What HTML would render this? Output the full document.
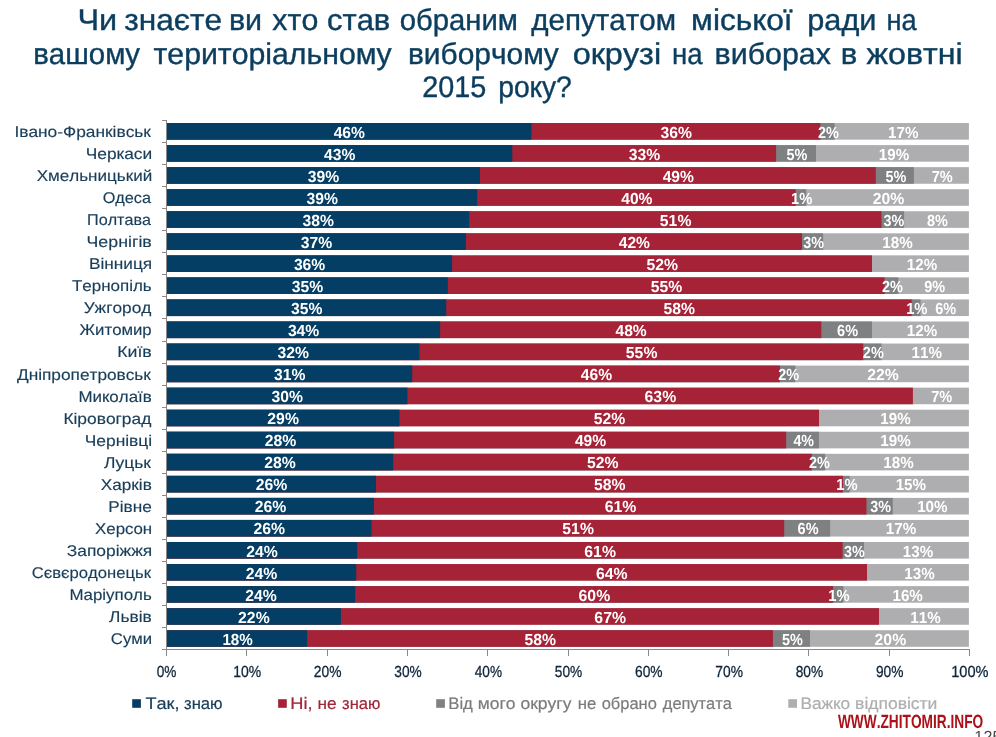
<!DOCTYPE html>
<html lang="uk"><head><meta charset="utf-8"><title>Чи знаєте ви хто став обраним депутатом</title>
<style>
html,body{margin:0;padding:0;background:#fff;}
body{width:996px;height:737px;overflow:hidden;}
svg{display:block;font-family:"Liberation Sans",sans-serif;font-kerning:none;text-rendering:geometricPrecision;}
</style></head><body>
<svg width="996" height="737" viewBox="0 0 996 737">
<rect width="996" height="737" fill="#fff"/>
<g id="bars">
<rect x="167.0" y="123.05" width="801.9" height="16.6" fill="#aeaeb0"/>
<rect x="167.0" y="123.05" width="667.6" height="16.6" fill="#7f8082"/>
<rect x="167.0" y="123.05" width="653.3" height="16.6" fill="#a62237"/>
<rect x="167.0" y="123.05" width="364.4" height="16.6" fill="#043e64"/>
<rect x="167.0" y="145.10" width="801.9" height="16.6" fill="#aeaeb0"/>
<rect x="167.0" y="145.10" width="649.0" height="16.6" fill="#7f8082"/>
<rect x="167.0" y="145.10" width="609.1" height="16.6" fill="#a62237"/>
<rect x="167.0" y="145.10" width="345.3" height="16.6" fill="#043e64"/>
<rect x="167.0" y="167.15" width="801.9" height="16.6" fill="#aeaeb0"/>
<rect x="167.0" y="167.15" width="746.9" height="16.6" fill="#7f8082"/>
<rect x="167.0" y="167.15" width="708.8" height="16.6" fill="#a62237"/>
<rect x="167.0" y="167.15" width="313.0" height="16.6" fill="#043e64"/>
<rect x="167.0" y="189.20" width="801.9" height="16.6" fill="#aeaeb0"/>
<rect x="167.0" y="189.20" width="639.2" height="16.6" fill="#7f8082"/>
<rect x="167.0" y="189.20" width="628.7" height="16.6" fill="#a62237"/>
<rect x="167.0" y="189.20" width="310.2" height="16.6" fill="#043e64"/>
<rect x="167.0" y="211.25" width="801.9" height="16.6" fill="#aeaeb0"/>
<rect x="167.0" y="211.25" width="737.1" height="16.6" fill="#7f8082"/>
<rect x="167.0" y="211.25" width="714.5" height="16.6" fill="#a62237"/>
<rect x="167.0" y="211.25" width="302.2" height="16.6" fill="#043e64"/>
<rect x="167.0" y="233.30" width="801.9" height="16.6" fill="#aeaeb0"/>
<rect x="167.0" y="233.30" width="656.1" height="16.6" fill="#7f8082"/>
<rect x="167.0" y="233.30" width="635.0" height="16.6" fill="#a62237"/>
<rect x="167.0" y="233.30" width="298.9" height="16.6" fill="#043e64"/>
<rect x="167.0" y="255.35" width="801.9" height="16.6" fill="#aeaeb0"/>
<rect x="167.0" y="255.35" width="705.0" height="16.6" fill="#a62237"/>
<rect x="167.0" y="255.35" width="285.1" height="16.6" fill="#043e64"/>
<rect x="167.0" y="277.40" width="801.9" height="16.6" fill="#aeaeb0"/>
<rect x="167.0" y="277.40" width="731.4" height="16.6" fill="#7f8082"/>
<rect x="167.0" y="277.40" width="717.6" height="16.6" fill="#a62237"/>
<rect x="167.0" y="277.40" width="280.8" height="16.6" fill="#043e64"/>
<rect x="167.0" y="299.45" width="801.9" height="16.6" fill="#aeaeb0"/>
<rect x="167.0" y="299.45" width="753.5" height="16.6" fill="#7f8082"/>
<rect x="167.0" y="299.45" width="744.7" height="16.6" fill="#a62237"/>
<rect x="167.0" y="299.45" width="279.2" height="16.6" fill="#043e64"/>
<rect x="167.0" y="321.50" width="801.9" height="16.6" fill="#aeaeb0"/>
<rect x="167.0" y="321.50" width="705.0" height="16.6" fill="#7f8082"/>
<rect x="167.0" y="321.50" width="654.3" height="16.6" fill="#a62237"/>
<rect x="167.0" y="321.50" width="273.1" height="16.6" fill="#043e64"/>
<rect x="167.0" y="343.55" width="801.9" height="16.6" fill="#aeaeb0"/>
<rect x="167.0" y="343.55" width="714.5" height="16.6" fill="#7f8082"/>
<rect x="167.0" y="343.55" width="696.2" height="16.6" fill="#a62237"/>
<rect x="167.0" y="343.55" width="252.5" height="16.6" fill="#043e64"/>
<rect x="167.0" y="365.60" width="801.9" height="16.6" fill="#aeaeb0"/>
<rect x="167.0" y="365.60" width="628.4" height="16.6" fill="#7f8082"/>
<rect x="167.0" y="365.60" width="612.9" height="16.6" fill="#a62237"/>
<rect x="167.0" y="365.60" width="245.2" height="16.6" fill="#043e64"/>
<rect x="167.0" y="387.65" width="801.9" height="16.6" fill="#aeaeb0"/>
<rect x="167.0" y="387.65" width="745.9" height="16.6" fill="#a62237"/>
<rect x="167.0" y="387.65" width="240.4" height="16.6" fill="#043e64"/>
<rect x="167.0" y="409.70" width="801.9" height="16.6" fill="#aeaeb0"/>
<rect x="167.0" y="409.70" width="652.0" height="16.6" fill="#a62237"/>
<rect x="167.0" y="409.70" width="232.4" height="16.6" fill="#043e64"/>
<rect x="167.0" y="431.75" width="801.9" height="16.6" fill="#aeaeb0"/>
<rect x="167.0" y="431.75" width="652.0" height="16.6" fill="#7f8082"/>
<rect x="167.0" y="431.75" width="619.2" height="16.6" fill="#a62237"/>
<rect x="167.0" y="431.75" width="227.1" height="16.6" fill="#043e64"/>
<rect x="167.0" y="453.80" width="801.9" height="16.6" fill="#aeaeb0"/>
<rect x="167.0" y="453.80" width="658.1" height="16.6" fill="#7f8082"/>
<rect x="167.0" y="453.80" width="644.8" height="16.6" fill="#a62237"/>
<rect x="167.0" y="453.80" width="226.2" height="16.6" fill="#043e64"/>
<rect x="167.0" y="475.85" width="801.9" height="16.6" fill="#aeaeb0"/>
<rect x="167.0" y="475.85" width="682.7" height="16.6" fill="#7f8082"/>
<rect x="167.0" y="475.85" width="675.9" height="16.6" fill="#a62237"/>
<rect x="167.0" y="475.85" width="209.0" height="16.6" fill="#043e64"/>
<rect x="167.0" y="497.90" width="801.9" height="16.6" fill="#aeaeb0"/>
<rect x="167.0" y="497.90" width="725.8" height="16.6" fill="#7f8082"/>
<rect x="167.0" y="497.90" width="699.5" height="16.6" fill="#a62237"/>
<rect x="167.0" y="497.90" width="207.0" height="16.6" fill="#043e64"/>
<rect x="167.0" y="519.95" width="801.9" height="16.6" fill="#aeaeb0"/>
<rect x="167.0" y="519.95" width="663.1" height="16.6" fill="#7f8082"/>
<rect x="167.0" y="519.95" width="617.2" height="16.6" fill="#a62237"/>
<rect x="167.0" y="519.95" width="204.5" height="16.6" fill="#043e64"/>
<rect x="167.0" y="542.00" width="801.9" height="16.6" fill="#aeaeb0"/>
<rect x="167.0" y="542.00" width="697.0" height="16.6" fill="#7f8082"/>
<rect x="167.0" y="542.00" width="675.6" height="16.6" fill="#a62237"/>
<rect x="167.0" y="542.00" width="190.2" height="16.6" fill="#043e64"/>
<rect x="167.0" y="564.05" width="801.9" height="16.6" fill="#aeaeb0"/>
<rect x="167.0" y="564.05" width="700.0" height="16.6" fill="#a62237"/>
<rect x="167.0" y="564.05" width="189.2" height="16.6" fill="#043e64"/>
<rect x="167.0" y="586.10" width="801.9" height="16.6" fill="#aeaeb0"/>
<rect x="167.0" y="586.10" width="676.4" height="16.6" fill="#7f8082"/>
<rect x="167.0" y="586.10" width="666.1" height="16.6" fill="#a62237"/>
<rect x="167.0" y="586.10" width="188.2" height="16.6" fill="#043e64"/>
<rect x="167.0" y="608.15" width="801.9" height="16.6" fill="#aeaeb0"/>
<rect x="167.0" y="608.15" width="712.0" height="16.6" fill="#a62237"/>
<rect x="167.0" y="608.15" width="173.9" height="16.6" fill="#043e64"/>
<rect x="167.0" y="630.20" width="801.9" height="16.6" fill="#aeaeb0"/>
<rect x="167.0" y="630.20" width="643.0" height="16.6" fill="#7f8082"/>
<rect x="167.0" y="630.20" width="605.9" height="16.6" fill="#a62237"/>
<rect x="167.0" y="630.20" width="140.2" height="16.6" fill="#043e64"/>
</g>
<g id="axes" shape-rendering="crispEdges">
<rect x="166" y="120" width="1" height="530" fill="#8a8a8a"/>
<rect x="166" y="649" width="804" height="1" fill="#8a8a8a"/>
<rect x="162" y="120" width="4" height="1" fill="#8a8a8a"/>
<rect x="162" y="142" width="4" height="1" fill="#8a8a8a"/>
<rect x="162" y="164" width="4" height="1" fill="#8a8a8a"/>
<rect x="162" y="186" width="4" height="1" fill="#8a8a8a"/>
<rect x="162" y="208" width="4" height="1" fill="#8a8a8a"/>
<rect x="162" y="230" width="4" height="1" fill="#8a8a8a"/>
<rect x="162" y="252" width="4" height="1" fill="#8a8a8a"/>
<rect x="162" y="274" width="4" height="1" fill="#8a8a8a"/>
<rect x="162" y="296" width="4" height="1" fill="#8a8a8a"/>
<rect x="162" y="318" width="4" height="1" fill="#8a8a8a"/>
<rect x="162" y="341" width="4" height="1" fill="#8a8a8a"/>
<rect x="162" y="363" width="4" height="1" fill="#8a8a8a"/>
<rect x="162" y="385" width="4" height="1" fill="#8a8a8a"/>
<rect x="162" y="407" width="4" height="1" fill="#8a8a8a"/>
<rect x="162" y="429" width="4" height="1" fill="#8a8a8a"/>
<rect x="162" y="451" width="4" height="1" fill="#8a8a8a"/>
<rect x="162" y="473" width="4" height="1" fill="#8a8a8a"/>
<rect x="162" y="495" width="4" height="1" fill="#8a8a8a"/>
<rect x="162" y="517" width="4" height="1" fill="#8a8a8a"/>
<rect x="162" y="539" width="4" height="1" fill="#8a8a8a"/>
<rect x="162" y="561" width="4" height="1" fill="#8a8a8a"/>
<rect x="162" y="583" width="4" height="1" fill="#8a8a8a"/>
<rect x="162" y="605" width="4" height="1" fill="#8a8a8a"/>
<rect x="162" y="627" width="4" height="1" fill="#8a8a8a"/>
<rect x="162" y="649" width="4" height="1" fill="#8a8a8a"/>
<rect x="166" y="650" width="1" height="5.5" fill="#8a8a8a"/>
<rect x="246" y="650" width="1" height="5.5" fill="#8a8a8a"/>
<rect x="327" y="650" width="1" height="5.5" fill="#8a8a8a"/>
<rect x="407" y="650" width="1" height="5.5" fill="#8a8a8a"/>
<rect x="487" y="650" width="1" height="5.5" fill="#8a8a8a"/>
<rect x="568" y="650" width="1" height="5.5" fill="#8a8a8a"/>
<rect x="648" y="650" width="1" height="5.5" fill="#8a8a8a"/>
<rect x="728" y="650" width="1" height="5.5" fill="#8a8a8a"/>
<rect x="808" y="650" width="1" height="5.5" fill="#8a8a8a"/>
<rect x="889" y="650" width="1" height="5.5" fill="#8a8a8a"/>
<rect x="969" y="650" width="1" height="5.5" fill="#8a8a8a"/>
</g>
<g id="text">
<g>
<text transform="translate(77.46,29.70) scale(1.0862,1)" font-size="29.9" fill="#0b3d5e" stroke="#0b3d5e" stroke-width="0.4" vector-effect="non-scaling-stroke">Чи</text>
<text transform="translate(124.24,29.70) scale(1.0588,1)" font-size="29.9" fill="#0b3d5e" stroke="#0b3d5e" stroke-width="0.4" vector-effect="non-scaling-stroke">знаєте</text>
<text transform="translate(228.89,29.70) scale(1.0197,1)" font-size="29.9" fill="#0b3d5e" stroke="#0b3d5e" stroke-width="0.4" vector-effect="non-scaling-stroke">ви</text>
<text transform="translate(272.36,29.70) scale(1.0141,1)" font-size="29.9" fill="#0b3d5e" stroke="#0b3d5e" stroke-width="0.4" vector-effect="non-scaling-stroke">хто</text>
<text transform="translate(326.98,29.70) scale(1.0360,1)" font-size="29.9" fill="#0b3d5e" stroke="#0b3d5e" stroke-width="0.4" vector-effect="non-scaling-stroke">став</text>
<text transform="translate(399.77,29.70) scale(0.9790,1)" font-size="29.9" fill="#0b3d5e" stroke="#0b3d5e" stroke-width="0.4" vector-effect="non-scaling-stroke">обраним</text>
<text transform="translate(531.21,29.70) scale(0.9891,1)" font-size="29.9" fill="#0b3d5e" stroke="#0b3d5e" stroke-width="0.4" vector-effect="non-scaling-stroke">депутатом</text>
<text transform="translate(691.10,29.70) scale(1.0602,1)" font-size="29.9" fill="#0b3d5e" stroke="#0b3d5e" stroke-width="0.4" vector-effect="non-scaling-stroke">міської</text>
<text transform="translate(807.32,29.70) scale(1.0251,1)" font-size="29.9" fill="#0b3d5e" stroke="#0b3d5e" stroke-width="0.4" vector-effect="non-scaling-stroke">ради</text>
<text transform="translate(886.51,29.70) scale(0.9109,1)" font-size="29.9" fill="#0b3d5e" stroke="#0b3d5e" stroke-width="0.4" vector-effect="non-scaling-stroke">на</text>
</g>
<g>
<text transform="translate(33.26,63.60) scale(0.9831,1)" font-size="29.9" fill="#0b3d5e" stroke="#0b3d5e" stroke-width="0.4" vector-effect="non-scaling-stroke">вашому</text>
<text transform="translate(153.48,63.60) scale(1.0116,1)" font-size="29.9" fill="#0b3d5e" stroke="#0b3d5e" stroke-width="0.4" vector-effect="non-scaling-stroke">територіальному</text>
<text transform="translate(407.92,63.60) scale(1.0017,1)" font-size="29.9" fill="#0b3d5e" stroke="#0b3d5e" stroke-width="0.4" vector-effect="non-scaling-stroke">виборчому</text>
<text transform="translate(572.64,63.60) scale(1.0846,1)" font-size="29.9" fill="#0b3d5e" stroke="#0b3d5e" stroke-width="0.4" vector-effect="non-scaling-stroke">окрузі</text>
<text transform="translate(672.08,63.60) scale(0.9238,1)" font-size="29.9" fill="#0b3d5e" stroke="#0b3d5e" stroke-width="0.4" vector-effect="non-scaling-stroke">на</text>
<text transform="translate(714.60,63.60) scale(1.0147,1)" font-size="29.9" fill="#0b3d5e" stroke="#0b3d5e" stroke-width="0.4" vector-effect="non-scaling-stroke">виборах</text>
<text transform="translate(840.75,63.60) scale(1.0390,1)" font-size="29.9" fill="#0b3d5e" stroke="#0b3d5e" stroke-width="0.4" vector-effect="non-scaling-stroke">в</text>
<text transform="translate(866.59,63.60) scale(1.0763,1)" font-size="29.9" fill="#0b3d5e" stroke="#0b3d5e" stroke-width="0.4" vector-effect="non-scaling-stroke">жовтні</text>
</g>
<g>
<text transform="translate(422.15,97.40) scale(0.9630,1)" font-size="29.9" fill="#0b3d5e" stroke="#0b3d5e" stroke-width="0.4" vector-effect="non-scaling-stroke">2015</text>
<text transform="translate(498.18,97.40) scale(0.9442,1)" font-size="29.9" fill="#0b3d5e" stroke="#0b3d5e" stroke-width="0.4" vector-effect="non-scaling-stroke">року?</text>
</g>
<text transform="translate(14.40,136.95) scale(1.1176,1)" font-size="15.5" fill="#173d58" stroke="#173d58" stroke-width="0.15" vector-effect="non-scaling-stroke">Івано-Франківськ</text>
<text transform="translate(85.74,159.00) scale(1.1192,1)" font-size="15.5" fill="#173d58" stroke="#173d58" stroke-width="0.15" vector-effect="non-scaling-stroke">Черкаси</text>
<text transform="translate(36.72,181.05) scale(1.0996,1)" font-size="15.5" fill="#173d58" stroke="#173d58" stroke-width="0.15" vector-effect="non-scaling-stroke">Хмельницький</text>
<text transform="translate(102.63,203.10) scale(1.0494,1)" font-size="15.5" fill="#173d58" stroke="#173d58" stroke-width="0.15" vector-effect="non-scaling-stroke">Одеса</text>
<text transform="translate(87.09,225.15) scale(1.0412,1)" font-size="15.5" fill="#173d58" stroke="#173d58" stroke-width="0.15" vector-effect="non-scaling-stroke">Полтава</text>
<text transform="translate(86.51,247.20) scale(1.1468,1)" font-size="15.5" fill="#173d58" stroke="#173d58" stroke-width="0.15" vector-effect="non-scaling-stroke">Чернігів</text>
<text transform="translate(88.99,269.25) scale(1.1122,1)" font-size="15.5" fill="#173d58" stroke="#173d58" stroke-width="0.15" vector-effect="non-scaling-stroke">Вінниця</text>
<text transform="translate(71.92,291.30) scale(1.0952,1)" font-size="15.5" fill="#173d58" stroke="#173d58" stroke-width="0.15" vector-effect="non-scaling-stroke">Тернопіль</text>
<text transform="translate(83.64,313.35) scale(1.1133,1)" font-size="15.5" fill="#173d58" stroke="#173d58" stroke-width="0.15" vector-effect="non-scaling-stroke">Ужгород</text>
<text transform="translate(79.57,335.40) scale(1.0827,1)" font-size="15.5" fill="#173d58" stroke="#173d58" stroke-width="0.15" vector-effect="non-scaling-stroke">Житомир</text>
<text transform="translate(117.25,357.45) scale(1.1420,1)" font-size="15.5" fill="#173d58" stroke="#173d58" stroke-width="0.15" vector-effect="non-scaling-stroke">Київ</text>
<text transform="translate(16.97,379.50) scale(1.1131,1)" font-size="15.5" fill="#173d58" stroke="#173d58" stroke-width="0.15" vector-effect="non-scaling-stroke">Дніпропетровськ</text>
<text transform="translate(78.41,401.55) scale(1.0915,1)" font-size="15.5" fill="#173d58" stroke="#173d58" stroke-width="0.15" vector-effect="non-scaling-stroke">Миколаїв</text>
<text transform="translate(63.38,423.60) scale(1.1199,1)" font-size="15.5" fill="#173d58" stroke="#173d58" stroke-width="0.15" vector-effect="non-scaling-stroke">Кіровоград</text>
<text transform="translate(84.74,445.65) scale(1.1214,1)" font-size="15.5" fill="#173d58" stroke="#173d58" stroke-width="0.15" vector-effect="non-scaling-stroke">Чернівці</text>
<text transform="translate(104.05,467.70) scale(1.1251,1)" font-size="15.5" fill="#173d58" stroke="#173d58" stroke-width="0.15" vector-effect="non-scaling-stroke">Луцьк</text>
<text transform="translate(100.81,489.75) scale(1.1063,1)" font-size="15.5" fill="#173d58" stroke="#173d58" stroke-width="0.15" vector-effect="non-scaling-stroke">Харків</text>
<text transform="translate(108.29,511.80) scale(1.1091,1)" font-size="15.5" fill="#173d58" stroke="#173d58" stroke-width="0.15" vector-effect="non-scaling-stroke">Рівне</text>
<text transform="translate(95.02,533.85) scale(1.0884,1)" font-size="15.5" fill="#173d58" stroke="#173d58" stroke-width="0.15" vector-effect="non-scaling-stroke">Херсон</text>
<text transform="translate(66.73,555.90) scale(1.1219,1)" font-size="15.5" fill="#173d58" stroke="#173d58" stroke-width="0.15" vector-effect="non-scaling-stroke">Запоріжжя</text>
<text transform="translate(31.76,577.95) scale(1.0729,1)" font-size="15.5" fill="#173d58" stroke="#173d58" stroke-width="0.15" vector-effect="non-scaling-stroke">Сєвєродонецьк</text>
<text transform="translate(69.41,600.00) scale(1.0901,1)" font-size="15.5" fill="#173d58" stroke="#173d58" stroke-width="0.15" vector-effect="non-scaling-stroke">Маріуполь</text>
<text transform="translate(109.05,622.05) scale(1.1191,1)" font-size="15.5" fill="#173d58" stroke="#173d58" stroke-width="0.15" vector-effect="non-scaling-stroke">Львів</text>
<text transform="translate(110.85,644.10) scale(1.0798,1)" font-size="15.5" fill="#173d58" stroke="#173d58" stroke-width="0.15" vector-effect="non-scaling-stroke">Суми</text>
<text transform="translate(156.72,676.60) scale(0.8527,1)" font-size="16" fill="#10263a" stroke="#10263a" stroke-width="0.3" vector-effect="non-scaling-stroke">0%</text>
<text transform="translate(233.14,676.60) scale(0.8732,1)" font-size="16" fill="#10263a" stroke="#10263a" stroke-width="0.3" vector-effect="non-scaling-stroke">10%</text>
<text transform="translate(313.81,676.60) scale(0.8614,1)" font-size="16" fill="#10263a" stroke="#10263a" stroke-width="0.3" vector-effect="non-scaling-stroke">20%</text>
<text transform="translate(394.28,676.60) scale(0.8559,1)" font-size="16" fill="#10263a" stroke="#10263a" stroke-width="0.3" vector-effect="non-scaling-stroke">30%</text>
<text transform="translate(474.79,676.60) scale(0.8493,1)" font-size="16" fill="#10263a" stroke="#10263a" stroke-width="0.3" vector-effect="non-scaling-stroke">40%</text>
<text transform="translate(554.85,676.60) scale(0.8568,1)" font-size="16" fill="#10263a" stroke="#10263a" stroke-width="0.3" vector-effect="non-scaling-stroke">50%</text>
<text transform="translate(635.00,676.60) scale(0.8616,1)" font-size="16" fill="#10263a" stroke="#10263a" stroke-width="0.3" vector-effect="non-scaling-stroke">60%</text>
<text transform="translate(715.29,676.60) scale(0.8618,1)" font-size="16" fill="#10263a" stroke="#10263a" stroke-width="0.3" vector-effect="non-scaling-stroke">70%</text>
<text transform="translate(795.70,676.60) scale(0.8583,1)" font-size="16" fill="#10263a" stroke="#10263a" stroke-width="0.3" vector-effect="non-scaling-stroke">80%</text>
<text transform="translate(875.96,676.60) scale(0.8598,1)" font-size="16" fill="#10263a" stroke="#10263a" stroke-width="0.3" vector-effect="non-scaling-stroke">90%</text>
<text transform="translate(951.14,676.60) scale(0.9123,1)" font-size="16" fill="#10263a" stroke="#10263a" stroke-width="0.3" vector-effect="non-scaling-stroke">100%</text>
<rect x="132.2" y="699.2" width="8.7" height="8.6" fill="#043e64"/>
<g>
<text transform="translate(145.39,708.70) scale(1.0925,1)" font-size="16.6" fill="#173d58" stroke="#173d58" stroke-width="0.2" vector-effect="non-scaling-stroke">Так,</text>
<text transform="translate(184.00,708.70) scale(1.0036,1)" font-size="16.6" fill="#173d58" stroke="#173d58" stroke-width="0.2" vector-effect="non-scaling-stroke">знаю</text>
</g>
<rect x="278.1" y="699.2" width="8.7" height="8.6" fill="#a62237"/>
<g>
<text transform="translate(290.30,708.70) scale(1.1012,1)" font-size="16.6" fill="#a0263a" stroke="#a0263a" stroke-width="0.2" vector-effect="non-scaling-stroke">Ні,</text>
<text transform="translate(317.41,708.70) scale(1.0357,1)" font-size="16.6" fill="#a0263a" stroke="#a0263a" stroke-width="0.2" vector-effect="non-scaling-stroke">не</text>
<text transform="translate(342.10,708.70) scale(0.9956,1)" font-size="16.6" fill="#a0263a" stroke="#a0263a" stroke-width="0.2" vector-effect="non-scaling-stroke">знаю</text>
</g>
<rect x="436.2" y="699.2" width="8.7" height="8.6" fill="#7f8082"/>
<g>
<text transform="translate(448.23,708.70) scale(1.0087,1)" font-size="16.6" fill="#7a7b7d" stroke="#7a7b7d" stroke-width="0.2" vector-effect="non-scaling-stroke">Від</text>
<text transform="translate(477.79,708.70) scale(1.0504,1)" font-size="16.6" fill="#7a7b7d" stroke="#7a7b7d" stroke-width="0.2" vector-effect="non-scaling-stroke">мого</text>
<text transform="translate(520.47,708.70) scale(1.0535,1)" font-size="16.6" fill="#7a7b7d" stroke="#7a7b7d" stroke-width="0.2" vector-effect="non-scaling-stroke">округу</text>
<text transform="translate(577.74,708.70) scale(1.0115,1)" font-size="16.6" fill="#7a7b7d" stroke="#7a7b7d" stroke-width="0.2" vector-effect="non-scaling-stroke">не</text>
<text transform="translate(601.71,708.70) scale(0.9924,1)" font-size="16.6" fill="#7a7b7d" stroke="#7a7b7d" stroke-width="0.2" vector-effect="non-scaling-stroke">обрано</text>
<text transform="translate(662.84,708.70) scale(0.9869,1)" font-size="16.6" fill="#7a7b7d" stroke="#7a7b7d" stroke-width="0.2" vector-effect="non-scaling-stroke">депутата</text>
</g>
<rect x="788.3" y="699.2" width="8.7" height="8.6" fill="#aeaeb0"/>
<g>
<text transform="translate(800.38,708.70) scale(1.0405,1)" font-size="16.6" fill="#adaeb0" stroke="#adaeb0" stroke-width="0.2" vector-effect="non-scaling-stroke">Важко</text>
<text transform="translate(855.09,708.70) scale(1.0542,1)" font-size="16.6" fill="#adaeb0" stroke="#adaeb0" stroke-width="0.2" vector-effect="non-scaling-stroke">відповісти</text>
</g>
</g>
<g id="values">
<text transform="translate(333.66,137.55) scale(0.9758,1)" font-size="16" font-weight="700" fill="#fff">46%</text>
<text transform="translate(660.49,137.55) scale(0.9797,1)" font-size="16" font-weight="700" fill="#fff">36%</text>
<text transform="translate(817.95,137.55) scale(0.9030,1)" font-size="16" font-weight="700" fill="#fff">2%</text>
<text transform="translate(888.09,137.55) scale(0.9479,1)" font-size="16" font-weight="700" fill="#fff">17%</text>
<text transform="translate(324.11,159.60) scale(0.9758,1)" font-size="16" font-weight="700" fill="#fff">43%</text>
<text transform="translate(628.84,159.60) scale(0.9797,1)" font-size="16" font-weight="700" fill="#fff">33%</text>
<text transform="translate(786.61,159.60) scale(0.9005,1)" font-size="16" font-weight="700" fill="#fff">5%</text>
<text transform="translate(878.79,159.60) scale(0.9479,1)" font-size="16" font-weight="700" fill="#fff">19%</text>
<text transform="translate(307.84,181.65) scale(0.9797,1)" font-size="16" font-weight="700" fill="#fff">39%</text>
<text transform="translate(662.66,181.65) scale(0.9758,1)" font-size="16" font-weight="700" fill="#fff">49%</text>
<text transform="translate(885.41,181.65) scale(0.9005,1)" font-size="16" font-weight="700" fill="#fff">5%</text>
<text transform="translate(931.78,181.65) scale(0.9084,1)" font-size="16" font-weight="700" fill="#fff">7%</text>
<text transform="translate(306.44,203.70) scale(0.9797,1)" font-size="16" font-weight="700" fill="#fff">39%</text>
<text transform="translate(621.21,203.70) scale(0.9758,1)" font-size="16" font-weight="700" fill="#fff">40%</text>
<text transform="translate(791.02,203.70) scale(0.9219,1)" font-size="16" font-weight="700" fill="#fff">1%</text>
<text transform="translate(872.70,203.70) scale(0.9856,1)" font-size="16" font-weight="700" fill="#fff">20%</text>
<text transform="translate(302.44,225.75) scale(0.9797,1)" font-size="16" font-weight="700" fill="#fff">38%</text>
<text transform="translate(659.87,225.75) scale(0.9836,1)" font-size="16" font-weight="700" fill="#fff">51%</text>
<text transform="translate(883.47,225.75) scale(0.8954,1)" font-size="16" font-weight="700" fill="#fff">3%</text>
<text transform="translate(927.04,225.75) scale(0.9011,1)" font-size="16" font-weight="700" fill="#fff">8%</text>
<text transform="translate(300.79,247.80) scale(0.9797,1)" font-size="16" font-weight="700" fill="#fff">37%</text>
<text transform="translate(618.71,247.80) scale(0.9758,1)" font-size="16" font-weight="700" fill="#fff">42%</text>
<text transform="translate(803.22,247.80) scale(0.8954,1)" font-size="16" font-weight="700" fill="#fff">3%</text>
<text transform="translate(882.34,247.80) scale(0.9479,1)" font-size="16" font-weight="700" fill="#fff">18%</text>
<text transform="translate(293.89,269.85) scale(0.9797,1)" font-size="16" font-weight="700" fill="#fff">36%</text>
<text transform="translate(646.57,269.85) scale(0.9836,1)" font-size="16" font-weight="700" fill="#fff">52%</text>
<text transform="translate(906.79,269.85) scale(0.9479,1)" font-size="16" font-weight="700" fill="#fff">12%</text>
<text transform="translate(291.74,291.90) scale(0.9797,1)" font-size="16" font-weight="700" fill="#fff">35%</text>
<text transform="translate(650.72,291.90) scale(0.9836,1)" font-size="16" font-weight="700" fill="#fff">55%</text>
<text transform="translate(882.00,291.90) scale(0.9030,1)" font-size="16" font-weight="700" fill="#fff">2%</text>
<text transform="translate(924.15,291.90) scale(0.9030,1)" font-size="16" font-weight="700" fill="#fff">9%</text>
<text transform="translate(290.94,313.95) scale(0.9797,1)" font-size="16" font-weight="700" fill="#fff">35%</text>
<text transform="translate(663.47,313.95) scale(0.9836,1)" font-size="16" font-weight="700" fill="#fff">58%</text>
<text transform="translate(906.17,313.95) scale(0.9219,1)" font-size="16" font-weight="700" fill="#fff">1%</text>
<text transform="translate(935.17,313.95) scale(0.9043,1)" font-size="16" font-weight="700" fill="#fff">6%</text>
<text transform="translate(287.89,336.00) scale(0.9797,1)" font-size="16" font-weight="700" fill="#fff">34%</text>
<text transform="translate(615.46,336.00) scale(0.9758,1)" font-size="16" font-weight="700" fill="#fff">48%</text>
<text transform="translate(837.12,336.00) scale(0.9043,1)" font-size="16" font-weight="700" fill="#fff">6%</text>
<text transform="translate(906.79,336.00) scale(0.9479,1)" font-size="16" font-weight="700" fill="#fff">12%</text>
<text transform="translate(277.59,358.05) scale(0.9797,1)" font-size="16" font-weight="700" fill="#fff">32%</text>
<text transform="translate(625.87,358.05) scale(0.9836,1)" font-size="16" font-weight="700" fill="#fff">55%</text>
<text transform="translate(862.85,358.05) scale(0.9030,1)" font-size="16" font-weight="700" fill="#fff">2%</text>
<text transform="translate(911.54,358.05) scale(0.9479,1)" font-size="16" font-weight="700" fill="#fff">11%</text>
<text transform="translate(273.94,380.10) scale(0.9797,1)" font-size="16" font-weight="700" fill="#fff">31%</text>
<text transform="translate(580.81,380.10) scale(0.9758,1)" font-size="16" font-weight="700" fill="#fff">46%</text>
<text transform="translate(778.15,380.10) scale(0.9030,1)" font-size="16" font-weight="700" fill="#fff">2%</text>
<text transform="translate(867.30,380.10) scale(0.9856,1)" font-size="16" font-weight="700" fill="#fff">22%</text>
<text transform="translate(271.54,402.15) scale(0.9797,1)" font-size="16" font-weight="700" fill="#fff">30%</text>
<text transform="translate(644.57,402.15) scale(0.9866,1)" font-size="16" font-weight="700" fill="#fff">63%</text>
<text transform="translate(931.28,402.15) scale(0.9084,1)" font-size="16" font-weight="700" fill="#fff">7%</text>
<text transform="translate(267.35,424.20) scale(0.9856,1)" font-size="16" font-weight="700" fill="#fff">29%</text>
<text transform="translate(593.72,424.20) scale(0.9836,1)" font-size="16" font-weight="700" fill="#fff">52%</text>
<text transform="translate(880.29,424.20) scale(0.9479,1)" font-size="16" font-weight="700" fill="#fff">19%</text>
<text transform="translate(264.70,446.25) scale(0.9856,1)" font-size="16" font-weight="700" fill="#fff">28%</text>
<text transform="translate(574.91,446.25) scale(0.9758,1)" font-size="16" font-weight="700" fill="#fff">49%</text>
<text transform="translate(793.38,446.25) scale(0.8904,1)" font-size="16" font-weight="700" fill="#fff">4%</text>
<text transform="translate(880.29,446.25) scale(0.9479,1)" font-size="16" font-weight="700" fill="#fff">19%</text>
<text transform="translate(264.25,468.30) scale(0.9856,1)" font-size="16" font-weight="700" fill="#fff">28%</text>
<text transform="translate(587.02,468.30) scale(0.9836,1)" font-size="16" font-weight="700" fill="#fff">52%</text>
<text transform="translate(808.95,468.30) scale(0.9030,1)" font-size="16" font-weight="700" fill="#fff">2%</text>
<text transform="translate(883.34,468.30) scale(0.9479,1)" font-size="16" font-weight="700" fill="#fff">18%</text>
<text transform="translate(255.65,490.35) scale(0.9856,1)" font-size="16" font-weight="700" fill="#fff">26%</text>
<text transform="translate(593.97,490.35) scale(0.9836,1)" font-size="16" font-weight="700" fill="#fff">58%</text>
<text transform="translate(836.37,490.35) scale(0.9219,1)" font-size="16" font-weight="700" fill="#fff">1%</text>
<text transform="translate(895.64,490.35) scale(0.9479,1)" font-size="16" font-weight="700" fill="#fff">15%</text>
<text transform="translate(254.65,512.40) scale(0.9856,1)" font-size="16" font-weight="700" fill="#fff">26%</text>
<text transform="translate(604.67,512.40) scale(0.9866,1)" font-size="16" font-weight="700" fill="#fff">61%</text>
<text transform="translate(870.32,512.40) scale(0.8954,1)" font-size="16" font-weight="700" fill="#fff">3%</text>
<text transform="translate(917.19,512.40) scale(0.9479,1)" font-size="16" font-weight="700" fill="#fff">10%</text>
<text transform="translate(253.40,534.45) scale(0.9856,1)" font-size="16" font-weight="700" fill="#fff">26%</text>
<text transform="translate(562.37,534.45) scale(0.9836,1)" font-size="16" font-weight="700" fill="#fff">51%</text>
<text transform="translate(797.62,534.45) scale(0.9043,1)" font-size="16" font-weight="700" fill="#fff">6%</text>
<text transform="translate(885.84,534.45) scale(0.9479,1)" font-size="16" font-weight="700" fill="#fff">17%</text>
<text transform="translate(246.25,556.50) scale(0.9856,1)" font-size="16" font-weight="700" fill="#fff">24%</text>
<text transform="translate(584.32,556.50) scale(0.9866,1)" font-size="16" font-weight="700" fill="#fff">61%</text>
<text transform="translate(843.97,556.50) scale(0.8954,1)" font-size="16" font-weight="700" fill="#fff">3%</text>
<text transform="translate(902.79,556.50) scale(0.9479,1)" font-size="16" font-weight="700" fill="#fff">13%</text>
<text transform="translate(245.75,578.55) scale(0.9856,1)" font-size="16" font-weight="700" fill="#fff">24%</text>
<text transform="translate(596.02,578.55) scale(0.9866,1)" font-size="16" font-weight="700" fill="#fff">64%</text>
<text transform="translate(904.29,578.55) scale(0.9479,1)" font-size="16" font-weight="700" fill="#fff">13%</text>
<text transform="translate(245.25,600.60) scale(0.9856,1)" font-size="16" font-weight="700" fill="#fff">24%</text>
<text transform="translate(578.57,600.60) scale(0.9866,1)" font-size="16" font-weight="700" fill="#fff">60%</text>
<text transform="translate(828.32,600.60) scale(0.9219,1)" font-size="16" font-weight="700" fill="#fff">1%</text>
<text transform="translate(892.49,600.60) scale(0.9479,1)" font-size="16" font-weight="700" fill="#fff">16%</text>
<text transform="translate(238.10,622.65) scale(0.9856,1)" font-size="16" font-weight="700" fill="#fff">22%</text>
<text transform="translate(594.37,622.65) scale(0.9866,1)" font-size="16" font-weight="700" fill="#fff">67%</text>
<text transform="translate(910.29,622.65) scale(0.9479,1)" font-size="16" font-weight="700" fill="#fff">11%</text>
<text transform="translate(222.44,644.70) scale(0.9479,1)" font-size="16" font-weight="700" fill="#fff">18%</text>
<text transform="translate(524.57,644.70) scale(0.9836,1)" font-size="16" font-weight="700" fill="#fff">58%</text>
<text transform="translate(782.01,644.70) scale(0.9005,1)" font-size="16" font-weight="700" fill="#fff">5%</text>
<text transform="translate(874.60,644.70) scale(0.9856,1)" font-size="16" font-weight="700" fill="#fff">20%</text>
</g>
<text x="974.2" y="741.5" font-size="16" fill="#4a4a4a" letter-spacing="0.3">125</text>
<g id="wm">
<text transform="translate(837.89,728.2) scale(0.7138,1)" font-size="19.2" font-weight="700" fill="#ac1019" stroke="#fff" stroke-width="3.2" stroke-linejoin="round" paint-order="stroke" opacity="1">WWW.ZHITOMIR.INFO</text>
</g>
</svg>
</body></html>
